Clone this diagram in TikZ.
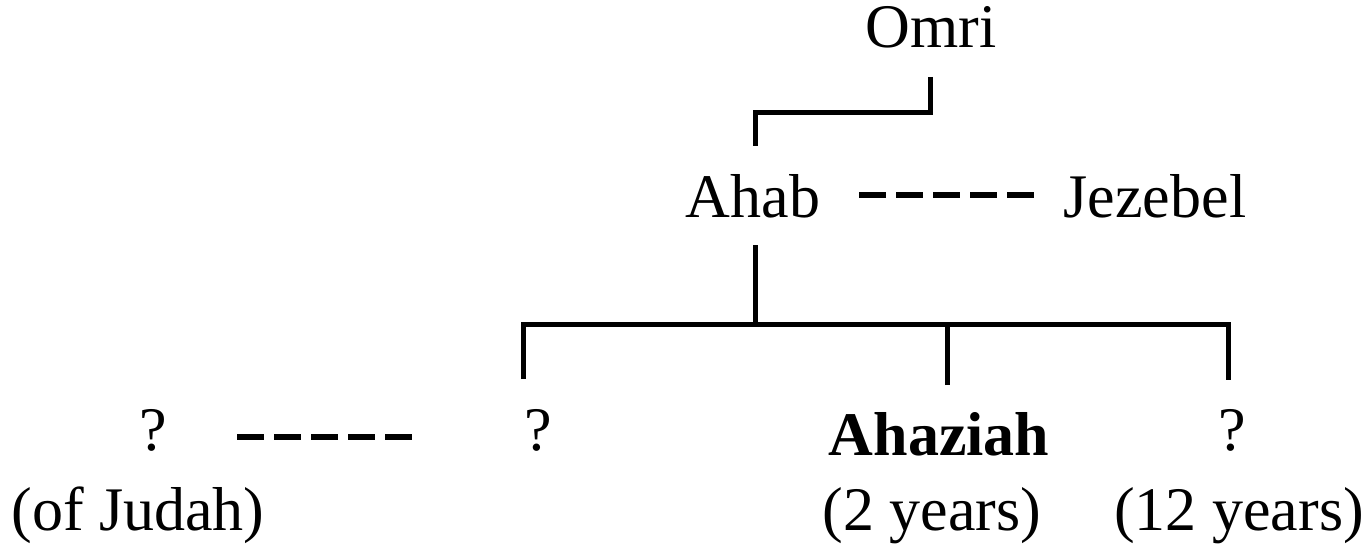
\documentclass[tikz,border=0pt]{standalone}
\usepackage{fontspec}
\setmainfont{Liberation Serif}
\begin{document}
\begin{tikzpicture}[x=1pt,y=-1pt,
  lbl/.style={anchor=base,inner sep=0pt,font=\fontsize{62}{74}\selectfont},
  tree/.style={line width=5pt,line join=miter,line cap=butt},
  marriage/.style={line width=6pt,dash pattern=on 27pt off 10pt}]
\useasboundingbox (0,0) rectangle (1372,548);
% people
\node[lbl] (omri)    at (931,48)  {Omri};
\node[lbl] (ahab)    at (753,217) {Ahab};
\node[lbl] (jezebel) at (1155,217) {Jezebel};
\node[lbl] (q1)      at (153,450) {?};
\node[lbl] (q2)      at (538,450) {?};
\node[lbl,font=\fontsize{62}{74}\selectfont\bfseries] (ahaziah) at (939,455) {Ahaziah};
\node[lbl] (q3)      at (1232,450) {?};
\node[lbl] (judah)   at (138,530) {(of Judah)};
\node[lbl] (two)     at (932,530) {(2 years)};
\node[lbl] (twelve)  at (1239,530) {(12 years)};
% junction points
\coordinate (o1) at (930,77);
\coordinate (o2) at (755,146);
\coordinate (a1) at (755,245);
\coordinate (bar) at (755,324);
\coordinate (bl) at (523,324);
\coordinate (br) at (1228,324);
\coordinate (d1) at (523,379);
\coordinate (d2) at (947,385);
\coordinate (d3) at (1228,380);
\coordinate (m1) at (859,195);
\coordinate (m2) at (1036,195);
\coordinate (n1) at (237,437);
\coordinate (n2) at (412,437);
% connectors
\draw[tree] (o1) -- ++(0,36) -| (o2);
\draw[tree] (a1) -- (bar);
\draw[tree] (d1) |- (br) -- (d3);
\draw[tree] (d2) -- (d2 |- bar);
\draw[marriage] (m1) -- (m2);
\draw[marriage] (n1) -- (n2);
\end{tikzpicture}
\end{document}
